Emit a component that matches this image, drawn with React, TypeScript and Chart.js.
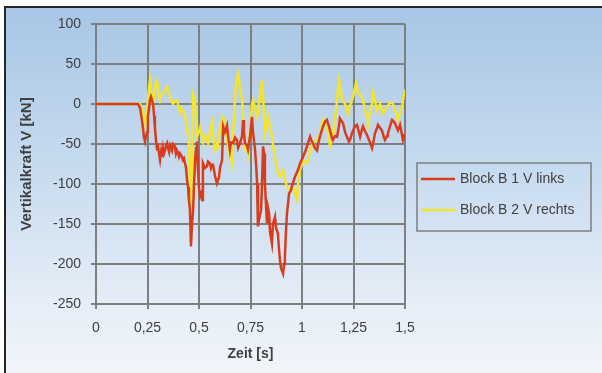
import React, { useEffect, useRef } from "react";
import { Chart, registerables } from "chart.js";

Chart.register(...registerables);

const seriesNames = ["Block B 1 V links", "Block B 2 V rechts"];
const xTickLabels = ["0", "0,25", "0,5", "0,75", "1", "1,25", "1,5"];
const yTickLabels = ["-250", "-200", "-150", "-100", "-50", "0", "50", "100"];
const xTitle = "Zeit [s]";
const yTitle = "Vertikalkraft V [kN]";

// Block B 1 V links
const timeLinks = [
  0, 0.204, 0.214, 0.223, 0.228, 0.233, 0.238, 0.243, 0.248, 0.252, 0.262, 0.267, 0.272, 0.277,
  0.282, 0.286, 0.291, 0.296, 0.301, 0.306, 0.311, 0.316, 0.32, 0.325, 0.33, 0.335, 0.34, 0.345,
  0.35, 0.355, 0.36, 0.369, 0.374, 0.383, 0.388, 0.393, 0.398, 0.403, 0.408, 0.417, 0.422, 0.427,
  0.432, 0.437, 0.442, 0.447, 0.451, 0.456, 0.461, 0.466, 0.471, 0.476, 0.481, 0.486, 0.49, 0.495,
  0.5, 0.505, 0.51, 0.515, 0.519, 0.529, 0.539, 0.544, 0.553, 0.558, 0.563, 0.568, 0.578, 0.587,
  0.592, 0.597, 0.602, 0.612, 0.617, 0.626, 0.636, 0.641, 0.65, 0.655, 0.665, 0.675, 0.684, 0.69,
  0.699, 0.709, 0.714, 0.718, 0.723, 0.733, 0.738, 0.748, 0.757, 0.762, 0.772, 0.777, 0.782, 0.786,
  0.791, 0.801, 0.806, 0.811, 0.816, 0.82, 0.83, 0.835, 0.84, 0.845, 0.854, 0.859, 0.869, 0.874,
  0.883, 0.888, 0.893, 0.898, 0.908, 0.913, 0.917, 0.922, 0.927, 0.932, 0.937, 0.946, 0.951, 0.961,
  0.966, 0.976, 0.981, 0.99, 1.005, 1.015, 1.024, 1.034, 1.039, 1.044, 1.053, 1.063, 1.073, 1.078,
  1.087, 1.097, 1.102, 1.112, 1.121, 1.131, 1.136, 1.145, 1.15, 1.16, 1.17, 1.179, 1.184, 1.194,
  1.199, 1.209, 1.218, 1.228, 1.233, 1.243, 1.248, 1.257, 1.267, 1.277, 1.282, 1.291, 1.296, 1.306,
  1.316, 1.33, 1.34, 1.349, 1.354, 1.364, 1.369, 1.379, 1.388, 1.398, 1.403, 1.413, 1.417, 1.427,
  1.437, 1.446, 1.451, 1.461, 1.466, 1.476, 1.485, 1.49, 1.5,
];
const valuesLinks = [
  0, 0, -5, -20, -30, -42, -47, -40, -35, -16, 5, 9, 5, 0,
  -15, -29, -45, -55, -53, -62, -70, -60, -66, -55, -62, -58, -52, -49,
  -55, -60, -52, -58, -50, -53, -62, -58, -61, -66, -62, -66, -70, -68,
  -74, -80, -95, -104, -120, -132, -178, -150, -135, -100, -70, -55, -47, -82,
  -105, -115, -112, -120, -74, -80, -78, -72, -74, -80, -76, -76, -90, -99,
  -95, -92, -80, -70, -28, -35, -27, -40, -57, -48, -49, -42, -45, -55,
  -49, -40, -20, -35, -49, -52, -57, -40, -16, -35, -57, -75, -99, -153,
  -145, -133, -100, -53, -62, -100, -149, -130, -137, -160, -174, -150, -141, -155,
  -162, -180, -195, -205, -212, -200, -191, -160, -137, -125, -112, -108, -103, -95,
  -91, -85, -82, -75, -66, -60, -53, -45, -41, -45, -49, -55, -58, -50,
  -41, -32, -28, -22, -20, -28, -33, -42, -45, -40, -41, -28, -18, -22,
  -24, -35, -41, -47, -45, -36, -33, -28, -26, -36, -41, -32, -28, -34,
  -39, -48, -55, -44, -37, -30, -26, -30, -33, -42, -45, -40, -37, -28,
  -20, -22, -24, -30, -33, -26, -38, -45, -37,
];

// Block B 2 V rechts
const timeRechts = [
  0, 0.214, 0.228, 0.238, 0.243, 0.248, 0.255, 0.262, 0.267, 0.272, 0.277, 0.286, 0.291, 0.296,
  0.301, 0.306, 0.311, 0.316, 0.325, 0.335, 0.345, 0.35, 0.359, 0.364, 0.374, 0.383, 0.393, 0.398,
  0.408, 0.413, 0.422, 0.432, 0.442, 0.451, 0.456, 0.461, 0.466, 0.471, 0.476, 0.481, 0.486, 0.49,
  0.5, 0.505, 0.515, 0.519, 0.53, 0.544, 0.553, 0.563, 0.568, 0.578, 0.587, 0.592, 0.597, 0.602,
  0.612, 0.617, 0.626, 0.636, 0.646, 0.66, 0.665, 0.675, 0.68, 0.689, 0.694, 0.699, 0.709, 0.714,
  0.723, 0.733, 0.738, 0.748, 0.757, 0.762, 0.772, 0.782, 0.791, 0.801, 0.806, 0.811, 0.82, 0.83,
  0.835, 0.845, 0.854, 0.864, 0.879, 0.888, 0.893, 0.903, 0.908, 0.917, 0.927, 0.937, 0.942, 0.951,
  0.956, 0.966, 0.976, 0.981, 0.99, 1.0, 1.005, 1.015, 1.024, 1.034, 1.039, 1.053, 1.063, 1.073,
  1.087, 1.097, 1.102, 1.112, 1.121, 1.131, 1.136, 1.145, 1.15, 1.16, 1.17, 1.175, 1.18, 1.185,
  1.194, 1.204, 1.209, 1.218, 1.223, 1.233, 1.248, 1.257, 1.262, 1.267, 1.272, 1.282, 1.291, 1.3,
  1.306, 1.316, 1.32, 1.33, 1.34, 1.345, 1.354, 1.364, 1.372, 1.379, 1.388, 1.393, 1.403, 1.413,
  1.427, 1.437, 1.442, 1.451, 1.466, 1.476, 1.485, 1.492, 1.5,
];
const valuesRechts = [
  0, 0, -10, -25, -15, -10, 15, 30, 18, 8, 0, 20, 28, 30,
  18, 10, 5, 10, 14, 18, 22, 16, 9, 5, 0, 3, 5, 0,
  -10, -5, -8, -15, -29, -45, -100, -160, -60, 13, 10, 5, -20, -41,
  -35, -30, -40, -45, -40, -49, -35, -24, -40, -57, -50, -53, -40, -30,
  -20, -16, -30, -45, -60, -74, -40, 9, 25, 38, 30, 20, 5, -20,
  -57, -55, -62, -30, 0, 5, -5, -16, 0, 20, 30, 10, -37, -25,
  -16, -30, -41, -60, -82, -88, -91, -86, -83, -95, -103, -106, -108, -105,
  -103, -112, -120, -100, -83, -75, -70, -72, -74, -65, -58, -49, -47, -45,
  -37, -25, -20, -24, -28, -45, -53, -45, -41, -20, 5, 20, 30, 20,
  5, 2, 0, -8, -12, -2, 9, 20, 26, 20, 14, 12, 9, 0,
  -8, -15, -20, -10, 0, 14, 5, -8, -3, 0, -8, -12, -8, -4,
  2, 1, 0, -8, -20, -10, -4, 8, 18,
];

const FONT = "'Liberation Sans', Arial, sans-serif";
const TEXT = "#404040";
const GRID = "#7f7f7f";
const RED = "#d83c1c";
const YELLOW = "#f3e52c";

const boxLegend = {
  id: "boxLegend",
  afterDraw(chart: any) {
    const { ctx, chartArea } = chart;
    const x0 = chartArea.right + 12;
    const y0 = 163;
    const w = 174;
    const h = 68;
    ctx.save();
    ctx.strokeStyle = GRID;
    ctx.lineWidth = 1.5;
    ctx.strokeRect(x0, y0, w, h);
    ctx.font = `14px ${FONT}`;
    ctx.textBaseline = "middle";
    ctx.textAlign = "left";
    chart.data.datasets.forEach((ds: any, i: number) => {
      const y = y0 + 16 + i * 31;
      ctx.strokeStyle = ds.borderColor;
      ctx.lineWidth = 2.5;
      ctx.beginPath();
      ctx.moveTo(x0 + 4, y);
      ctx.lineTo(x0 + 38, y);
      ctx.stroke();
      ctx.fillStyle = TEXT;
      ctx.fillText(ds.label, x0 + 43, y);
    });
    ctx.restore();
  },
};

export default function App() {
  const ref = useRef<HTMLCanvasElement | null>(null);
  useEffect(() => {
    document.body.style.margin = "0";
    const canvas = ref.current;
    if (!canvas) return;
    const chart = new Chart(canvas, {
      type: "line",
      data: {
        datasets: [
          {
            label: seriesNames[0],
            data: timeLinks.map((t, i) => ({ x: t, y: valuesLinks[i] })),
            borderColor: RED,
            borderWidth: 2.5,
            pointRadius: 0,
            tension: 0,
            fill: false,
          },
          {
            label: seriesNames[1],
            data: timeRechts.map((t, i) => ({ x: t, y: valuesRechts[i] })),
            borderColor: YELLOW,
            borderWidth: 2.5,
            pointRadius: 0,
            tension: 0,
            fill: false,
          },
        ],
      },
      options: {
        animation: false,
        responsive: false,
        maintainAspectRatio: false,
        layout: { padding: { left: 0, top: 24, right: 197, bottom: 0 } },
        plugins: { legend: { display: false }, tooltip: { enabled: false } },
        scales: {
          x: {
            type: "linear",
            min: 0,
            max: 1.5,
            ticks: {
              stepSize: 0.25,
              padding: 11,
              color: TEXT,
              font: { family: FONT, size: 14 },
              callback: (v: any) => xTickLabels[Math.round(Number(v) / 0.25)],
            },
            grid: { color: GRID, lineWidth: 2, tickLength: 5 },
            border: { color: GRID, width: 2 },
            title: {
              display: true,
              text: xTitle,
              color: TEXT,
              font: { family: FONT, size: 14, weight: "bold" },
              padding: { top: 4, bottom: 10 },
            },
            afterFit: (s: any) => {
              s.height = 69;
            },
          },
          y: {
            type: "linear",
            min: -250,
            max: 100,
            ticks: {
              stepSize: 50,
              padding: 10,
              color: TEXT,
              font: { family: FONT, size: 14 },
              callback: (v: any) => yTickLabels[Math.round((Number(v) + 250) / 50)],
            },
            grid: { color: GRID, lineWidth: 2, tickLength: 5 },
            border: { color: GRID, width: 2 },
            title: {
              display: true,
              text: yTitle,
              color: TEXT,
              font: { family: FONT, size: 15, weight: "bold" },
              padding: { top: 18, bottom: 4 },
            },
            afterFit: (s: any) => {
              s.width = 96;
            },
          },
        },
      },
      plugins: [boxLegend],
    });
    return () => chart.destroy();
  }, []);

  return (
    <div style={{ position: "relative", width: 602, height: 373, overflow: "hidden" }}>
      <div
        style={{
          position: "absolute",
          left: 4,
          top: 6,
          width: 602,
          height: 373,
          border: "2px solid #262626",
          background: "linear-gradient(180deg, #a8c6e5 0%, #c9dcef 45%, #e6eef7 80%, #f3f6fa 100%)",
        }}
      />
      <canvas ref={ref} width={602} height={373} style={{ position: "absolute", left: 0, top: 0 }} />
    </div>
  );
}
